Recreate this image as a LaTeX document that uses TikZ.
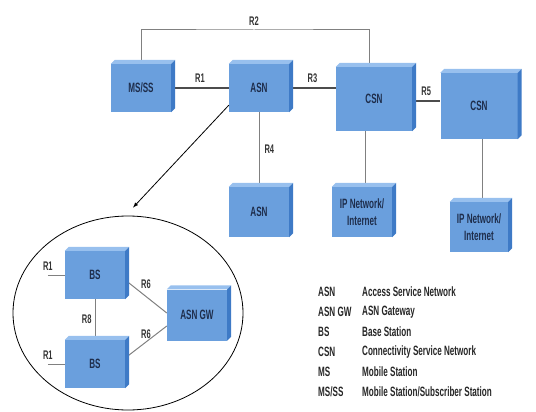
\documentclass[tikz,border=0pt]{standalone}
\usepackage{fontspec}
\newfontfamily\condfont[FakeStretch=0.6]{Liberation Sans}
\usetikzlibrary{shapes.geometric, backgrounds}

\definecolor{boxfront}{RGB}{106,159,221}
\definecolor{boxtop}{RGB}{152,192,238}
\definecolor{boxside}{RGB}{62,122,198}
\definecolor{boxtext}{RGB}{30,45,75}

\tikzset{
	netbox/.style = {fill = boxfront, minimum width = 60pt, minimum height = 48pt, inner sep = 1pt,
		align = center, text = boxtext, font = \condfont\bfseries\fontsize{13.5}{17}\selectfont},
	link/.style = {draw = black!70, line width = 1.4pt},
	drop/.style = {draw = black!50, line width = 1pt},
	rlabel/.style = {font = \condfont\bfseries\fontsize{12.5}{12.5}\selectfont, text = black!80, inner sep = 1pt},
	legend/.style = {font = \condfont\bfseries\fontsize{13.5}{13.5}\selectfont, text = black!85, inner sep = 0pt}
}

\begin{document}
\begin{tikzpicture}[x = 1pt, y = -1pt, > = latex]

	\useasboundingbox (0, 0) rectangle (536, 412);

	% Boxes
	
	\node [netbox] (msss) at (141, 88) {MS/SS};
	\node [netbox] (asn) at (259, 88) {ASN};
	\node [netbox, minimum width = 76pt, minimum height = 64pt] (csn) at (374, 99) {CSN};
	\node [netbox, minimum width = 77pt, minimum height = 66pt] (csnb) at (479, 106) {CSN};
	\node [netbox, minimum height = 50pt] (asnb) at (259, 212) {ASN};
	\node [netbox, minimum height = 50pt] (ipa) at (362, 212) {IP Network/\\Internet};
	\node [netbox, minimum width = 58pt, minimum height = 50pt] (ipb) at (479, 227) {IP Network/\\Internet};
	
	\node [draw, ellipse, line width = 0.8pt, minimum width = 230pt, minimum height = 194pt] (zoomview) at (128, 313) {};
	
	\node [netbox] (bsa) at (95, 275) {BS};
	\node [netbox] (bsb) at (95, 364) {BS};
	\node [netbox, minimum height = 51pt] (asngw) at (197, 315) {ASN GW};
	
	% Top and side faces
	
	\foreach \n in {msss, asn, csn, csnb, asnb, ipa, ipb, bsa, bsb, asngw} {
		\fill [boxtop] (\n.north west) -- ([shift = {(4pt, 4pt)}] \n.north west)
			-- ([shift = {(4pt, 4pt)}] \n.north east) -- (\n.north east) -- cycle;
		\fill [boxside] (\n.north east) -- ([shift = {(4pt, 4pt)}] \n.north east)
			-- ([shift = {(4pt, 4pt)}] \n.south east) -- (\n.south east) -- cycle;
	}
	
	% Links
	
	\begin{scope}[on background layer]
		\coordinate (rtwo) at (254, 30);
		\draw [drop] (msss.north) |- (rtwo) node [rlabel, above = 3pt] (lrtwo) {R2} -| ([xshift = -5pt] csn.north);
		
		\draw [link] (msss.east) -- node [rlabel, above = 4pt] (lrone) {R1} (asn.west);
		\draw [link] (asn.east) -- node [rlabel, above = 4pt] (lrthree) {R3} (asn.east -| csn.west);
		\draw [link] ([yshift = -2pt] csn.east) -- node [rlabel, above = 4pt] (lrfive) {R5} ([yshift = -2pt] csn.east -| csnb.west);
		
		\draw [drop] (asn) -- node [rlabel, right = 4pt] (lrfour) {R4} (asnb);
		\draw [drop] ([xshift = 3pt] ipa.north) -- ([xshift = 3pt] ipa.north |- csn.south);
		\draw [drop] ([xshift = 3pt] ipb.north) -- ([xshift = 3pt] ipb.north |- csnb.south);
		
		\draw [drop] ([xshift = -17pt] bsa.west) node [rlabel, above = 3pt] (lroneb) {R1} -- (bsa.west);
		\draw [drop] ([xshift = -17pt] bsb.west) node [rlabel, above = 3pt] (lronec) {R1} -- (bsb.west);
		\draw [drop] (bsa) -- node [rlabel, left = 2pt] (lreight) {R8} (bsb);
		\draw [drop] ([yshift = -5pt] bsa.east) -- node [rlabel, above = 6pt] (lrsix) {R6} ([yshift = 2pt] asngw.west);
		\draw [drop] ([yshift = 6pt] bsb.east) -- node [rlabel, above = 2pt] (lrsixb) {R6} ([yshift = -11pt] asngw.west);
	\end{scope}
	
	% Zoom arrow
	
	\draw [->, line width = 0.8pt] ([yshift = 7pt] asn.south west) -- ([shift = {(5pt, 8pt)}] zoomview.north);
	
	% Legend
	
	\foreach \abbr/\desc [count = \i] in {ASN/Access Service Network, ASN GW/ASN Gateway, BS/Base Station,
		CSN/Connectivity Service Network, MS/Mobile Station, {MS/SS}/{Mobile Station/Subscriber Station}} {
		\node [legend, anchor = west] (abbr\i) at (318, 272 + 20 * \i) {\abbr};
		\node [legend, anchor = west] (desc\i) at (362, 272 + 20 * \i) {\desc};
	}

\end{tikzpicture}
\end{document}
